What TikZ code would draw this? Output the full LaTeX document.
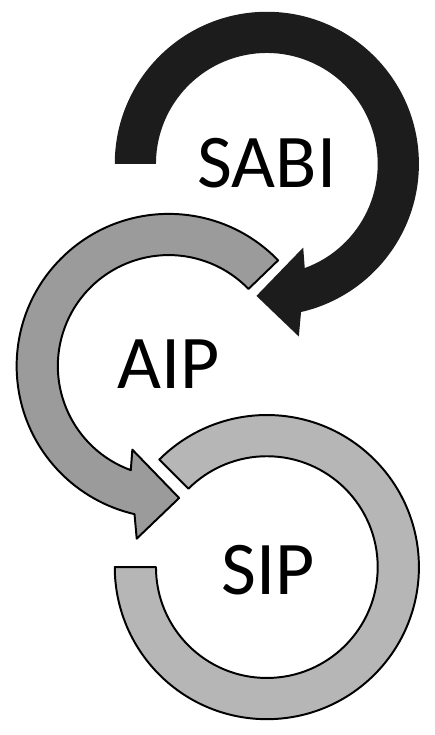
\documentclass[tikz,border=0pt]{standalone}
\usepackage{fontspec}
\setmainfont{Carlito}
\usepackage{tikz}

\definecolor{sabifill}{RGB}{28,28,28}
\definecolor{aipfill}{RGB}{155,155,155}
\definecolor{sipfill}{RGB}{182,182,182}

\begin{document}
\begin{tikzpicture}[x=0.75pt,y=0.75pt,yscale=-1,xscale=1,
    ring/.style={draw=black,line width=1.5pt,line join=round},
    ring label/.style={inner sep=0.75pt,font=\fontsize{58}{60}\selectfont}]
    %set diagram left start at 0, and has height of 735
    \path (0,0) rectangle (423,735);

    %Shape: Circular Arrow [id:sabi]
    \begin{scope}[shift={(265,167)}]
    \fill [sabifill] (180:155) arc (180:437:155) -- (439.5:179) -- (454.5:135) -- (426.5:93) -- (430:113) arc (430:180:113) -- cycle ;
    \end{scope}
    %Shape: Circular Arrow [id:aip]
    \begin{scope}[shift={(165,373)}]
    \draw [ring,fill=aipfill] (-44:155) arc (-44:-257:155) -- (-259.5:179) -- (-274.5:135) -- (-246.5:93) -- (-250:113) arc (-250:-44:113) -- cycle ;
    \end{scope}
    %Shape: Block Arc [id:sip]
    \begin{scope}[shift={(265,578)}]
    \draw [ring,fill=sipfill] (-135:155) arc (-135:180:155) -- (180:113) arc (180:-135:113) -- cycle ;
    \end{scope}

    % Text Node
    \node [ring label] (sabi) at (265,166) {SABI};
    % Text Node
    \node [ring label] (aip) at (165,371) {AIP};
    % Text Node
    \node [ring label] (sip) at (266,581) {SIP};
\end{tikzpicture}
\end{document}
